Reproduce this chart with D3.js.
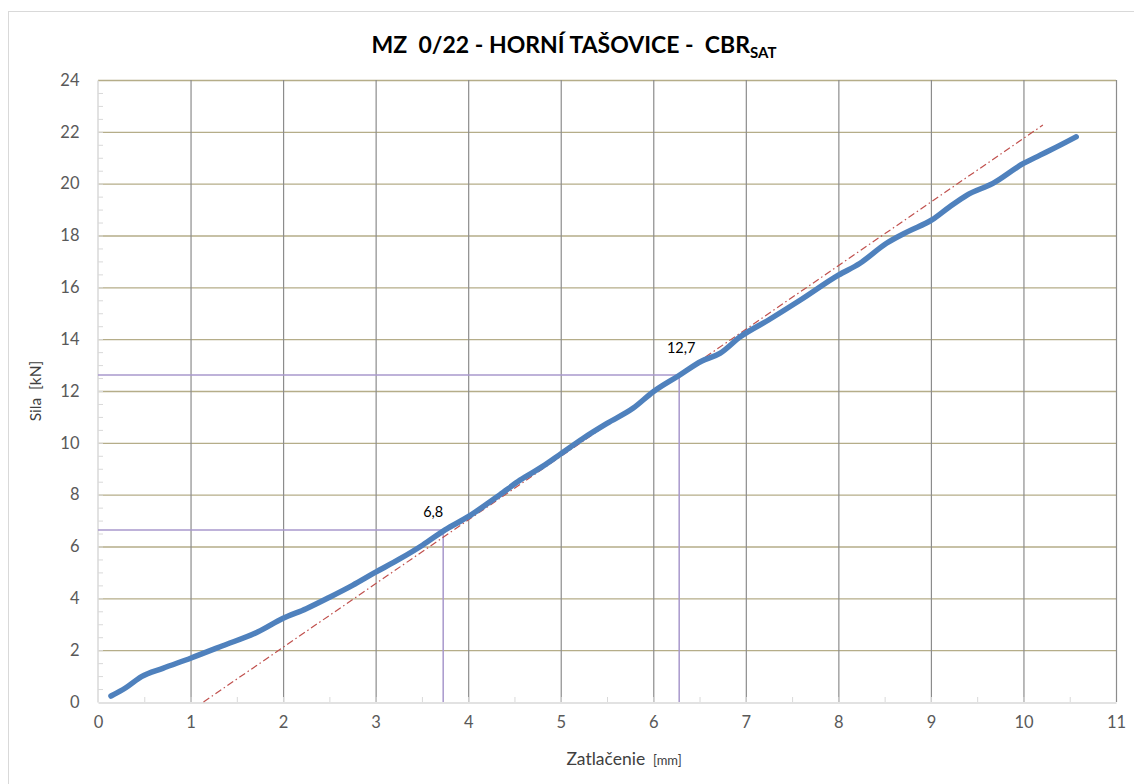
<!DOCTYPE html>
<html>
<head>
<meta charset="utf-8">
<script src="https://cdn.jsdelivr.net/npm/d3@7"></script>
<style>
  body { margin: 0; background: #fff; }
  svg { display: block; font-family: Lato, "Open Sans", "Liberation Sans", sans-serif; }
</style>
</head>
<body>
<svg id="chart" width="1134" height="784"></svg>
<script>
// ---- data ----
const displacement = [0.14,0.3,0.47,0.7,1.0,1.34,1.73,2.0,2.25,2.49,2.75,2.99,3.25,3.51,3.75,4.0,4.34,4.56,4.8,5.01,5.24,5.5,5.78,6.0,6.27,6.52,6.72,6.94,7.25,7.59,8.0,8.23,8.52,8.75,9.01,9.2,9.39,9.67,10.0,10.18,10.36,10.57];
const force = [0.23,0.55,0.98,1.3,1.69,2.16,2.71,3.23,3.6,4.02,4.5,4.99,5.5,6.06,6.64,7.15,7.99,8.56,9.08,9.6,10.17,10.75,11.33,11.97,12.58,13.15,13.45,14.09,14.75,15.51,16.47,16.92,17.7,18.15,18.6,19.1,19.56,20.01,20.78,21.1,21.42,21.81];
const trendX = [1.14, 10.21];
const trendY = [0, 22.26];
const markerX = [3.73, 6.28];
const markerY = [6.64, 12.62];
const markerLabels = ["6,8", "12,7"];
const xTicks = [0,1,2,3,4,5,6,7,8,9,10,11];
const yTicks = [0,2,4,6,8,10,12,14,16,18,20,22,24];

(function () {
// ---- layout ----
const svg = d3.select("#chart");
const pL = 98, pR = 1116, pT = 80, pB = 702;
const x = d3.scaleLinear().domain([0, 11]).range([pL, pR]);
const y = d3.scaleLinear().domain([0, 24]).range([pB, pT]);
const labelDx = [-10, 2], labelDy = [-13, -22];

// outer border
svg.append("rect").attr("x", 8.5).attr("y", 11.5).attr("width", 1140).attr("height", 800)
  .attr("fill", "none").attr("stroke", "#d9d9d9").attr("stroke-width", 1);

// title
const title = svg.append("text").attr("x", 574).attr("y", 53).attr("text-anchor", "middle")
  .attr("font-size", 23).attr("font-weight", "bold").attr("fill", "#000").style("white-space", "pre");
title.append("tspan").text("MZ  0/22 - HORNÍ TAŠOVICE -  CBR");
title.append("tspan").text("SAT").attr("font-size", 15).attr("dy", 5);

// gridlines
const g = svg.append("g");
g.selectAll(".hg").data(yTicks.filter(d => d > 0)).enter().append("line")
  .attr("x1", pL).attr("x2", pR).attr("y1", d => y(d) + 0.5).attr("y2", d => y(d) + 0.5)
  .attr("stroke", "#b5ad89").attr("stroke-width", 1.3);
g.selectAll(".vg").data(xTicks.filter(d => d > 0)).enter().append("line")
  .attr("y1", pT).attr("y2", pB).attr("x1", d => x(d) + 0.5).attr("x2", d => x(d) + 0.5)
  .attr("stroke", "#8c8c8c").attr("stroke-width", 1.2);

// axes
const xAxis = d3.axisBottom(x).tickValues(xTicks).tickSize(0).tickPadding(14);
const yAxis = d3.axisLeft(y).tickValues(yTicks).tickSize(0).tickPadding(18);
const gx = svg.append("g").attr("transform", `translate(0,${pB + 0.5})`).call(xAxis);
const gy = svg.append("g").attr("transform", `translate(${pL - 0.5},0)`).call(yAxis);
[gx, gy].forEach(a => {
  a.select(".domain").attr("stroke", "#d9d9d9").attr("stroke-width", 1.5);
  a.selectAll("text").attr("font-size", 16.5).attr("fill", "#595959")
    .attr("font-family", "Lato, 'Open Sans', sans-serif");
});

// minor ticks (inside)
const minorX = d3.range(0.5, 11, 0.5);
svg.append("g").selectAll("line").data(minorX).enter().append("line")
  .attr("x1", d => x(d) + 0.5).attr("x2", d => x(d) + 0.5).attr("y1", pB - 5).attr("y2", pB)
  .attr("stroke", "#d9d9d9").attr("stroke-width", 1);
const minorY = d3.range(0.5, 24, 0.5);
svg.append("g").selectAll("line").data(minorY).enter().append("line")
  .attr("y1", d => y(d) + 0.5).attr("y2", d => y(d) + 0.5).attr("x1", pL).attr("x2", pL + 5)
  .attr("stroke", "#d9d9d9").attr("stroke-width", 1);

// marker guide lines (purple)
const guides = svg.append("g");
markerX.forEach((mx, i) => {
  guides.append("line").attr("x1", pL).attr("x2", x(mx)).attr("y1", y(markerY[i])).attr("y2", y(markerY[i]))
    .attr("stroke", "#a898cc").attr("stroke-width", 1.5);
  guides.append("line").attr("x1", x(mx)).attr("x2", x(mx)).attr("y1", y(markerY[i])).attr("y2", pB)
    .attr("stroke", "#a898cc").attr("stroke-width", 1.5);
});

// trend line (red dash-dot)
svg.append("line").attr("x1", x(trendX[0])).attr("y1", y(trendY[0])).attr("x2", x(trendX[1])).attr("y2", y(trendY[1]))
  .attr("stroke", "#c0504d").attr("stroke-width", 1.2).attr("stroke-dasharray", "7,3,1.5,3");

// main curve
const pts = displacement.map((d, i) => [d, force[i]]);
const line = d3.line().x(d => x(d[0])).y(d => y(d[1])).curve(d3.curveMonotoneX);
svg.append("path").datum(pts).attr("d", line).attr("fill", "none")
  .attr("stroke", "#4f81bd").attr("stroke-width", 5.5).attr("stroke-linecap", "round").attr("stroke-linejoin", "round");

// marker labels
svg.append("g").selectAll("text").data(markerLabels).enter().append("text")
  .attr("x", (d, i) => x(markerX[i]) + labelDx[i]).attr("y", (d, i) => y(markerY[i]) + labelDy[i])
  .attr("text-anchor", "middle").attr("font-size", 14.5).attr("fill", "#000").text(d => d);

// axis titles
const xt = svg.append("text").attr("x", 624).attr("y", 765).attr("text-anchor", "middle").attr("fill", "#404040").style("white-space", "pre");
xt.append("tspan").attr("font-size", 17.5).text("Zatlačenie ");
xt.append("tspan").attr("font-size", 13).text(" [mm]");
svg.append("text").attr("transform", "translate(41,391) rotate(-90)").attr("text-anchor", "middle")
  .attr("font-size", 15.5).attr("fill", "#404040").style("white-space", "pre").text("Sila  [kN]");
})();
</script>
</body>
</html>
